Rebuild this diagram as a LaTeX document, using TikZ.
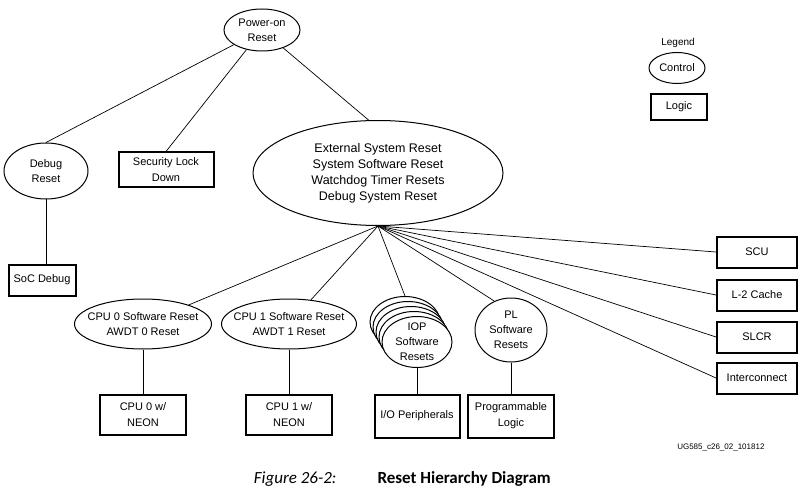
\documentclass[tikz,border=0pt]{standalone}
\usepackage{fontspec}
\setmainfont{Liberation Sans}
\newfontfamily\capfont{Carlito}
\usepackage{tikz}
\usetikzlibrary{shapes.geometric}

\begin{document}
\begin{tikzpicture}[x=1pt,y=-1pt,
  ctrl/.style={ellipse,draw=black,line width=1pt,fill=white,inner sep=0pt,align=center,
    font=\fontsize{11}{15}\selectfont},
  logic/.style={rectangle,draw=black,line width=2pt,inner sep=0pt,align=center,
    font=\fontsize{11}{16}\selectfont},
  wire/.style={line width=0.7pt}]
\useasboundingbox (0,0) rectangle (800,489);
%Control Nodes
\node at (262,30) [ctrl,minimum width=76,minimum height=42] (PowerOn) {Power-on\\Reset};
\node at (46,171) [ctrl,minimum width=84,minimum height=56] (DebugRst) {Debug\\Reset};
\node at (378,173) [ctrl,minimum width=250,minimum height=105,font=\fontsize{12.5}{16}\selectfont] (SysRst)
  {External System Reset\\System Software Reset\\Watchdog Timer Resets\\Debug System Reset};
\node at (143,324) [ctrl,minimum width=137,minimum height=50,inner xsep=-8pt] (Cpu0Rst) {CPU 0 Software Reset\\AWDT 0 Reset};
\node at (289,324) [ctrl,minimum width=135,minimum height=50,inner xsep=-8pt] (Cpu1Rst) {CPU 1 Software Reset\\AWDT 1 Reset};
\node at (405,322) [ctrl,minimum width=70,minimum height=51] (IopBack4) {};
\node at (408,327) [ctrl,minimum width=70,minimum height=51] (IopBack3) {};
\node at (411,332) [ctrl,minimum width=70,minimum height=51] (IopBack2) {};
\node at (414,337) [ctrl,minimum width=70,minimum height=51] (IopBack1) {};
\node at (417,342) [ctrl,minimum width=70,minimum height=51,inner ysep=-4pt] (IopRst) {IOP\\Software\\Resets};
\node at (511,330) [ctrl,minimum width=72,minimum height=64] (PlRst) {PL\\Software\\Resets};
%Logic Nodes
\node at (166,170) [logic,minimum width=95,minimum height=35] (SecLock) {Security Lock\\Down};
\node at (42,280) [logic,minimum width=67,minimum height=31] (SocDebug) {SoC Debug};
\node at (143,415) [logic,minimum width=86,minimum height=40] (Cpu0) {CPU 0 w/\\NEON};
\node at (289,415) [logic,minimum width=86,minimum height=40] (Cpu1) {CPU 1 w/\\NEON};
\node at (417,416) [logic,minimum width=85,minimum height=43] (IoPeriph) {I/O Peripherals};
\node at (511,416) [logic,minimum width=86,minimum height=43] (ProgLogic) {Programmable\\Logic};
\node at (757,252) [logic,minimum width=80,minimum height=31] (Scu) {SCU};
\node at (757,295) [logic,minimum width=80,minimum height=31] (L2Cache) {L-2 Cache};
\node at (757,337) [logic,minimum width=80,minimum height=31] (Slcr) {SLCR};
\node at (757,378) [logic,minimum width=80,minimum height=31] (Interconnect) {Interconnect};
%Legend
\node at (678,43) [font=\fontsize{10}{12}\selectfont] (Legend) {Legend};
\node at (677,68) [ctrl,minimum width=56,minimum height=31] (LegCtrl) {Control};
\node at (679,107) [logic,minimum width=56,minimum height=26] (LegLogic) {Logic};
%connections
\draw [wire] (PowerOn) -- (DebugRst.north);
\draw [wire] (PowerOn) -- (SecLock.north);
\draw [wire] (PowerOn) -- (SysRst.100);
\draw [wire] (DebugRst.south) -- (DebugRst.south |- SocDebug.north);
\draw [wire] (SysRst.south) -- (Cpu0Rst);
\draw [wire] (SysRst.south) -- (Cpu1Rst);
\draw [wire] (SysRst.south) -- (IopBack4.north);
\draw [wire] (SysRst.south) -- (PlRst.120);
\draw [wire] (SysRst.south) -- (Scu.west);
\draw [wire] (SysRst.south) -- (L2Cache.west);
\draw [wire] (SysRst.south) -- (Slcr.west);
\draw [wire] (SysRst.south) -- (Interconnect.west);
\draw [wire] (Cpu0Rst) -- (Cpu0);
\draw [wire] (Cpu1Rst) -- (Cpu1);
\draw [wire] (IopRst) -- (IoPeriph);
\draw [wire] (PlRst) -- (ProgLogic);
%Figure Text
\node at (768,447) [anchor=east,font=\fontsize{8}{10}\selectfont] (FigId) {UG585\_c26\_02\_101812};
\node at (340,479) [anchor=east,font=\capfont\fontsize{17}{20}\selectfont\itshape] (FigNum) {Figure 26-2:};
\node at (374,479) [anchor=west,font=\capfont\fontsize{17}{20}\selectfont\bfseries] (FigTitle) {Reset Hierarchy Diagram};

\end{tikzpicture}
\end{document}
